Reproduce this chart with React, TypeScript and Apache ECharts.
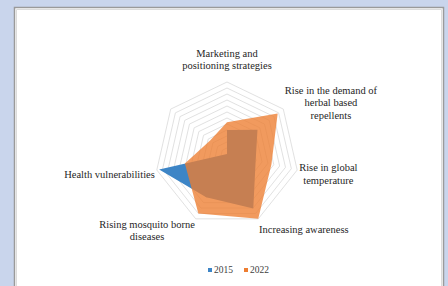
import React, { useEffect, useRef } from 'react';
import * as echarts from 'echarts';

// Excel order (clockwise from top)
const categories = [
  'Marketing and\npositioning strategies',
  'Rise in the demand of\nherbal based\nrepellents',
  'Rise in global\ntemperature',
  'Increasing awareness',
  'Rising mosquito borne\ndiseases',
  'Health vulnerabilities',
  '',
];
const values2015 = [4.0, 6.5, 4.9, 10.1, 8.0, 11.6, 0];
const values2022 = [5.3, 10.8, 7.6, 12.0, 11.0, 7.2, 3.6];
const seriesNames = ['2015', '2022'];
const axisMax = 12;

// vertical nudges for the axis names (px, negative = up)
const nameShift = [-8, -5, 3.5, 9, 10, 4, 0];

const FONT = 'Liberation Serif';
const TEXT = '#262626';

export default function App() {
  const ref = useRef<HTMLDivElement>(null);
  useEffect(() => {
    if (!ref.current) return;
    const chart = echarts.init(ref.current, undefined, { renderer: 'svg' });
    // ECharts places indicators counter-clockwise; Excel clockwise
    const order = [0, 6, 5, 4, 3, 2, 1];
    const rich: Record<string, any> = {
      c: { align: 'center', fontFamily: FONT, fontSize: 10.5, lineHeight: 12.5, color: TEXT },
    };
    const formatter = (name: string) => {
      const idx = categories.indexOf(name);
      if (!name) return '';
      let s = name.split('\n').map((l) => `{c|${l}}`).join('\n');
      const sh = idx >= 0 ? nameShift[idx] : 0;
      if (sh !== 0) {
        const isTop = idx === 0;
        const h = isTop ? Math.abs(sh) : Math.abs(sh) * 2;
        const key = 'h' + String(h).replace('.', '_');
        rich[key] = { fontSize: 1, lineHeight: h, fontFamily: FONT };
        if (sh < 0) s = s + `\n{${key}| }`;
        else s = `{${key}| }\n` + s;
      }
      return s;
    };
    // prebuild rich keys
    categories.forEach((c) => formatter(c));

    chart.setOption({
      animation: false,
      graphic: [
        {
          type: 'rect',
          z: -10,
          silent: true,
          shape: { x: 14.5, y: 7.5, width: 429, height: 281 },
          style: { fill: '#ffffff', stroke: '#9a9a9a', lineWidth: 1.5 },
        },
        {
          type: 'rect',
          z: -9,
          silent: true,
          shape: { x: 16.5, y: 9.5, width: 425, height: 277 },
          style: { fill: 'none', stroke: '#dcdcdc', lineWidth: 1 },
        },
      ],
      legend: {
        data: seriesNames,
        left: 203,
        top: 260,
        icon: 'rect',
        itemWidth: 4,
        itemHeight: 4,
        itemGap: 11,
        textStyle: { fontFamily: FONT, fontSize: 9.5, color: '#404040', padding: [0, 0, 0, -3] },
      },
      radar: {
        center: [227, 154],
        radius: 72,
        startAngle: 90,
        splitNumber: 12,
        shape: 'polygon',
        nameGap: 2,
        indicator: order.map((i) => ({ name: categories[i], max: axisMax, min: 0 })),
        axisName: {
          formatter,
          rich,
          fontFamily: FONT,
          fontSize: 10.5,
          color: TEXT,
        },
        splitLine: { lineStyle: { color: '#d9d9d9', width: 0.8 } },
        splitArea: { show: false },
        axisLine: { show: false },
        axisTick: { show: false },
        axisLabel: { show: false },
      },
      series: [
        {
          type: 'radar',
          symbol: 'none',
          data: [
            {
              name: seriesNames[0],
              value: order.map((i) => values2015[i]),
              itemStyle: { color: '#3d85c6' },
              lineStyle: { width: 0, opacity: 0 },
              areaStyle: { color: '#3d85c6', opacity: 1 },
            },
            {
              name: seriesNames[1],
              value: order.map((i) => values2022[i]),
              itemStyle: { color: '#ED7D31' },
              lineStyle: { width: 0, opacity: 0 },
              areaStyle: { color: '#ED7D31', opacity: 0.78 },
            },
          ],
        },
      ],
    });
    return () => chart.dispose();
  }, []);
  return (
    <div
      ref={ref}
      style={{ position: 'fixed', left: 0, top: 0, width: 448, height: 286, background: '#c9d5ec' }}
    />
  );
}
